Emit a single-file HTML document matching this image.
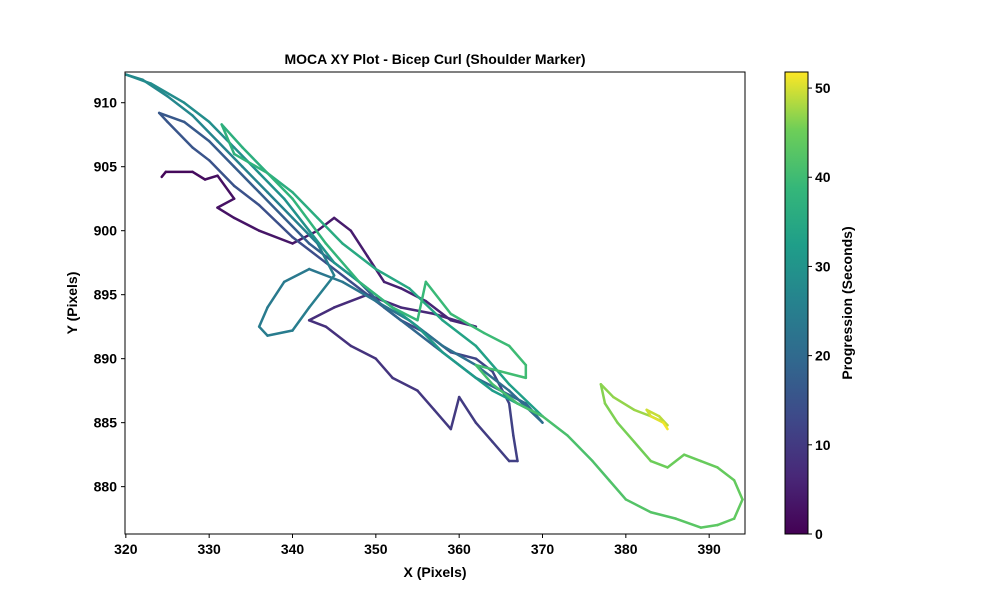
<!DOCTYPE html>
<html><head><meta charset="utf-8"><style>
body{margin:0;background:#fff;}
svg text{font-family:"Liberation Sans",sans-serif;font-weight:bold;fill:#000;}
</style></head><body>
<svg id="chart" width="1000" height="600" xmlns="http://www.w3.org/2000/svg">
<defs>
<linearGradient id="vir" x1="0" y1="1" x2="0" y2="0">
<stop offset="0" stop-color="#440154"/><stop offset="0.125" stop-color="#482878"/><stop offset="0.25" stop-color="#3e4989"/><stop offset="0.375" stop-color="#31688e"/><stop offset="0.5" stop-color="#26828e"/><stop offset="0.625" stop-color="#1f9e89"/><stop offset="0.75" stop-color="#35b779"/><stop offset="0.875" stop-color="#6ece58"/><stop offset="1" stop-color="#fde725"/>
</linearGradient>
<clipPath id="clip"><rect x="125" y="72" width="620" height="462"/></clipPath>
</defs>
<text x="435" y="64" font-size="14" text-anchor="middle">MOCA XY Plot - Bicep Curl (Shoulder Marker)</text>
<g id="traj" clip-path="url(#clip)"></g>
<rect x="125" y="72" width="620" height="462" fill="none" stroke="#000" stroke-width="1"/>
<g id="axes"></g>
<text x="435" y="577" font-size="14" text-anchor="middle">X (Pixels)</text>
<text transform="translate(77,303) rotate(-90)" font-size="14" text-anchor="middle">Y (Pixels)</text>
<rect x="785" y="72" width="23" height="462" fill="url(#vir)" stroke="#000" stroke-width="1"/>
<g id="cbaxis"></g>
<text transform="translate(852,303) rotate(-90)" font-size="14" text-anchor="middle">Progression (Seconds)</text>
</svg>
<script>
const xTicks=[320,330,340,350,360,370,380,390];
const yTicks=[880,885,890,895,900,905,910];
const cbTicks=[0,10,20,30,40,50];
const pathX=[324.3,324.8,328,329.5,331,333,331,333,336,340,343,345,347,349,351,353,356,359,362,357,353,349,345,342,344,347,350,352,355,357,359,360,362,364,366,367,366.5,366,364,362,359,356,353,350,347,344,340,336,333,330,328,325,324,327,330,333,336,339,342,345,348,351,354,357,360,362,365,368,370,366,362,358,354,350,346,342,339,337,336,337,340,342,345,343,340,337,334,331,328,325,322,320,323,327,330,333,336,339,342,345,348,351,355,358,361,364,367,370,366,362,358,354,350,346,343,340,337,334,331.5,333,337,340,344,348,352,355,356,359,363,366,368,368,365,362,364,367,370,373,376,378,380,383,386,389,391,393,394,393,391,389,387,385,383,381,379,377.5,377,378.5,381,383,384,385,384,382.5,383,384.5,385];
const pathY=[904.2,904.6,904.6,904,904.3,902.5,901.8,901,900,899,900,901,900,898,896,895.5,894.5,893,892.5,893.5,894,895,894,893,892.5,891,890,888.5,887.5,886,884.5,887,885,883.5,882,882,884,886.5,889,890,890.5,892,893,894.5,896,897.5,899.5,902,903.5,905.5,906.5,908.5,909.2,908.5,907,905,903,901,899,897.5,896,894,892.5,891,889.5,888.5,887.5,886.5,885,887.5,889.5,891,893,894.5,896,897,896,894,892.5,891.8,892.2,894,896.5,899,901,903,905,907,909,910.5,911.8,912.2,911.5,910,908.5,906.5,904.5,902.5,900,897.5,896,894.5,892.5,890.5,889,887.5,886.5,885.5,888,891,893,895.5,897,899,901,903,904.5,906.5,908.3,906,904.5,902.5,899,896,894,893,896,893.5,892,891,889.5,888.5,889,889.5,888,886.5,885.5,884,882,880.5,879,878,877.5,876.8,877,877.5,879,880.5,881.5,882,882.5,881.5,882,883.5,885,886.5,888,887,886,885.5,885.2,884.8,885.5,886,885.5,885,884.5];
const pathT=[0.5,1,1.5,2,2.3,2.6,2.8,3,3.3,3.6,3.9,4.2,4.5,4.8,5.1,5.4,5.7,6,6.3,6.6,6.9,7.2,7.5,7.8,8.1,8.4,8.7,9,9.3,9.6,9.9,10.1,10.3,10.6,10.9,11.1,11.3,11.6,11.9,12.1,12.4,12.6,12.9,13.2,13.5,13.8,14.1,14.4,14.7,15,15.3,15.6,15.9,16.2,16.5,16.8,17.1,17.4,17.7,18,18.3,18.6,18.9,19.2,19.4,19.6,19.8,20,20.2,20.5,21,21.5,22,22.5,23,23.5,23.8,24,24.2,24.4,24.6,24.8,25,25.3,25.6,25.9,26.2,26.5,26.8,27.1,27.4,27.7,28,28.3,28.6,28.9,29.2,29.5,29.8,30.1,30.4,30.7,31,31.3,31.6,31.9,32.2,32.5,33,33.5,34,34.5,35,35.5,35.8,36.1,36.4,36.7,37,37.3,37.6,37.9,38.2,38.5,38.8,39,39.2,39.4,39.6,39.8,40,40.1,40.3,40.5,40.7,40.9,41.1,41.3,41.6,41.9,42.2,42.5,42.8,43.1,43.4,43.7,44,44.2,44.4,44.6,44.8,45,45.3,45.6,45.9,46.2,46.5,46.8,47.2,47.6,48,48.5,49,49.5,50,51,51.8];
const NS='http://www.w3.org/2000/svg';
const X0=125,X1=745,Y0=534,Y1=72;
const xMin=319.9,xMax=394.3,yMin=876.3,yMax=912.4,tMax=51.8;
const sx=v=>X0+(v-xMin)/(xMax-xMin)*(X1-X0);
const sy=v=>Y0-(v-yMin)/(yMax-yMin)*(Y0-Y1);
const sc=v=>534-v/tMax*462;
const vstops=[[68,1,84],[72,40,120],[62,73,137],[49,104,142],[38,130,142],[31,158,137],[53,183,121],[110,206,88],[253,231,37]];
function viridis(f){f=Math.max(0,Math.min(1,f))*8;const i=Math.min(7,Math.floor(f)),r=f-i;const a=vstops[i],b=vstops[i+1];return 'rgb('+a.map((c,k)=>Math.round(c+(b[k]-c)*r)).join(',')+')';}
const traj=document.getElementById('traj');
for(let i=0;i<pathX.length-1;i++){
 const l=document.createElementNS(NS,'line');
 l.setAttribute('x1',sx(pathX[i]));l.setAttribute('y1',sy(pathY[i]));
 l.setAttribute('x2',sx(pathX[i+1]));l.setAttribute('y2',sy(pathY[i+1]));
 l.setAttribute('stroke',viridis((pathT[i]+pathT[i+1])/2/tMax));
 l.setAttribute('stroke-width','2.5');l.setAttribute('stroke-linecap','round');
 
 
 traj.appendChild(l);
}
const axes=document.getElementById('axes');
function mk(tag,attrs,parent,txt){const e=document.createElementNS(NS,tag);for(const k in attrs)e.setAttribute(k,attrs[k]);if(txt!==undefined)e.textContent=txt;parent.appendChild(e);return e;}
xTicks.forEach(v=>{const x=sx(v);
 const t=mk('line',{x1:x,x2:x,y1:534,y2:538,stroke:'#000'},axes);
 
 
 const s=mk('text',{x:x,y:554,'font-size':14,'text-anchor':'middle'},axes,v);
 
 });
yTicks.forEach(v=>{const y=sy(v);
 const t=mk('line',{x1:121,x2:125,y1:y,y2:y,stroke:'#000'},axes);
 
 
 const s=mk('text',{x:117,y:y+5,'font-size':14,'text-anchor':'end'},axes,v);
 
 });
const cba=document.getElementById('cbaxis');
cbTicks.forEach(v=>{const y=sc(v);
 const t=mk('line',{x1:808,x2:812,y1:y,y2:y,stroke:'#000'},cba);
 
 
 const s=mk('text',{x:815,y:y+5,'font-size':14},cba,v);
 
 });
</script>
</body></html>
